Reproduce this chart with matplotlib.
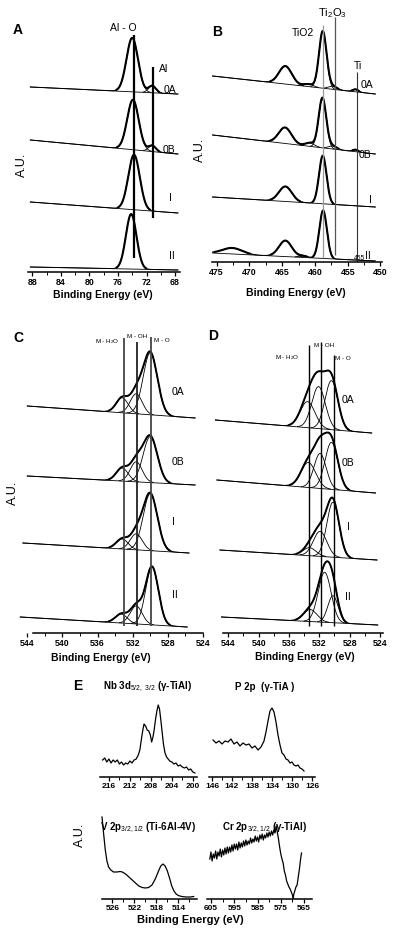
import numpy as np
import matplotlib
matplotlib.use("Agg")
import matplotlib.pyplot as plt

plt.rcParams['font.family'] = ['Liberation Sans', 'DejaVu Sans']
plt.rcParams['mathtext.fontset'] = 'custom'
plt.rcParams['mathtext.rm'] = 'Liberation Sans'
plt.rcParams['mathtext.it'] = 'Liberation Sans:italic'
plt.rcParams['mathtext.bf'] = 'Liberation Sans:bold'

W, H = 400, 933

# ------------------------------------------------------------------ data
samples = ["0A", "0B", "I", "II"]

# Panel A : Al 2p  (peak centre eV, height a.u., FWHM eV)
A_range = (88.3, 67.6)
A_bg_left = [185, 132, 70, 5]
A_bg_right = [178, 118, 59, 2]
A_alo_center = [74.0, 73.9, 73.75, 74.15]
A_alo_height = [54, 50, 55, 55]
A_alo_fwhm = [1.9, 1.9, 1.9, 1.75]
A_al_center = [71.2, 71.2, 71.1, 71.1]
A_al_height = [7, 6, 0, 0]
A_al_fwhm = [1.2, 1.2, 1.2, 1.2]
A_lines_ev = [73.7, 71.1]

# Panel B : Ti 2p
B_range = (475.6, 450.8)
B_bg_left = [186, 127, 65, 9]
B_bg_right = [168, 108, 55, 1]
B_tio2a_center = [458.8, 458.85, 458.8, 458.75]
B_tio2a_height = [57, 50, 48, 48]
B_tio2a_fwhm = [1.35, 1.35, 1.35, 1.35]
B_tio2b_center = [464.5, 464.55, 464.5, 464.5]
B_tio2b_height = [18, 16, 15, 16]
B_tio2b_fwhm = [2.3, 2.3, 2.3, 2.3]
B_ti2o3_center = [457.3, 457.3, 457.3, 457.3]
B_ti2o3_height = [3, 3, 0, 0]
B_ti2o3_fwhm = [1.5, 1.5, 1.5, 1.5]
B_sub_center = [461.0, 460.8, 461.0, 461.8]
B_sub_height = [2.5, 3.5, 0, 1.5]
B_sub_fwhm = [1.8, 1.6, 1.6, 1.6]
B_ti_center = [453.8, 453.8, 453.8, 453.8]
B_ti_height = [2.5, 2, 0, 0]
B_ti_fwhm = [1.0, 1.0, 1.0, 1.0]
B_sat_center = [472.6, 472.6, 472.6, 472.6]
B_sat_height = [0, 0, 0, 6]
B_sat_fwhm = [3.5, 3.5, 3.5, 3.5]
B_lines_ev = [458.7, 456.9, 453.6]

# Panel C : O 1s
C_range_lo = [544.0, 544.0, 544.5, 544.8]
C_range_hi = [524.9, 524.9, 525.6, 525.8]
C_bg_left = [227, 157, 90, 16]
C_bg_right = [215, 148, 80, 6]
C_mo_center = [530.0, 530.0, 530.0, 529.8]
C_mo_height = [62, 46, 57, 58]
C_mo_fwhm = [1.9, 1.9, 1.9, 1.7]
C_moh_center = [531.6, 531.6, 531.6, 531.6]
C_moh_height = [20, 20, 16, 18]
C_moh_fwhm = [1.6, 1.6, 1.6, 1.6]
C_mh2o_center = [533.2, 533.2, 533.2, 533.3]
C_mh2o_height = [15, 13, 10, 9]
C_mh2o_fwhm = [1.6, 1.6, 1.6, 1.6]
C_lines_ev = [533.0, 531.55, 529.95]

# Panel D : O 1s
D_range_lo = [545.7, 545.5, 545.1, 544.9]
D_range_hi = [525.1, 524.6, 524.4, 524.3]
D_bg_left = [213, 153, 83, 16]
D_bg_right = [200, 140, 73, 8]
D_mo_center = [530.4, 530.4, 530.2, 530.2]
D_mo_height = [49, 47, 55, 27]
D_mo_fwhm = [2.0, 2.0, 1.9, 1.6]
D_moh_center = [532.1, 531.9, 531.9, 531.3]
D_moh_height = [42, 35, 25, 50]
D_moh_fwhm = [2.1, 1.9, 2.1, 2.0]
D_mh2o_center = [533.55, 533.45, 533.3, 533.2]
D_mh2o_height = [26, 25, 8, 12]
D_mh2o_fwhm = [2.3, 2.3, 2.0, 2.1]
D_lines_ev = [533.31, 531.78, 530.03]

# Panel E : survey of alloying elements (eV, a.u.)
Nb_ev = [217.2, 216.8, 216.4, 216.0, 215.6, 215.2, 214.8, 214.4, 214.0, 213.6,
         213.2, 212.8, 212.4, 212.0, 211.6, 211.2, 210.8, 210.4, 210.1, 209.8,
         209.5, 209.3, 209.0, 208.7, 208.4, 208.1, 207.85, 207.6, 207.4, 207.1,
         206.85, 206.6, 206.35, 206.1, 205.85, 205.6, 205.3, 205.0, 204.7, 204.4,
         204.0, 203.6, 203.2, 202.8, 202.4, 202.0, 201.6, 201.2, 200.8, 200.4,
         200.0, 199.6]
Nb_int = [17, 19, 15, 18, 14, 17, 15, 17, 13, 15, 12, 14, 13, 16, 14, 17, 18, 22,
          27, 38, 48, 53, 51, 47, 46, 42, 35, 40, 46, 58, 66, 72, 68, 57, 45, 33,
          24, 20, 18, 16, 15, 13, 14, 11, 12, 10, 9, 10, 7, 8, 5, 4]

P_ev = [145.8, 145.2, 144.6, 144.0, 143.4, 142.8, 142.2, 141.6, 141.0, 140.4,
        139.8, 139.2, 138.6, 138.0, 137.4, 136.8, 136.2, 135.6, 135.2, 134.8,
        134.4, 134.0, 133.6, 133.2, 132.8, 132.4, 132.0, 131.6, 131.2, 130.8,
        130.4, 130.0, 129.6, 129.2, 128.8, 128.4, 128.0, 127.6]
P_int = [37, 34, 36, 33, 36, 35, 38, 33, 35, 31, 34, 32, 33, 29, 31, 27, 30, 36,
         45, 56, 66, 69, 65, 55, 42, 32, 24, 22, 18, 17, 14, 15, 12, 11, 12, 9, 8, 6]

V_ev = [527.9, 527.6, 527.3, 527.0, 526.7, 526.3, 525.8, 525.2, 524.6, 524.2,
        523.6, 523.0, 522.4, 521.8, 521.2, 520.6, 520.0, 519.4, 518.8, 518.2,
        517.6, 517.2, 516.8, 516.4, 516.0, 515.6, 515.2, 514.8, 514.4, 514.0,
        513.4, 512.6, 511.8, 511.2]
V_int = [82, 65, 49, 38, 32, 29, 27, 27, 27.5, 27, 25, 22, 19, 16, 13, 11.5, 11,
         11.5, 14, 20, 28, 33, 35, 33, 28, 21, 13, 8, 5, 3.5, 2.5, 2, 2, 2.5]

Cr_ev = [605.5, 605.0, 604.5, 604.0, 603.5, 603.0, 602.5, 602.0, 601.5, 601.0,
         600.5, 600.0, 599.5, 599.0, 598.5, 598.0, 597.5, 597.0, 596.5, 596.0,
         595.5, 595.0, 594.5, 594.0, 593.5, 593.0, 592.5, 592.0, 591.5, 591.0,
         590.5, 590.0, 589.5, 589.0, 588.5, 588.0, 587.5, 587.0, 586.5, 586.0,
         585.5, 585.0, 584.5, 584.0, 583.5, 583.0, 582.5, 582.0, 581.5, 581.0,
         580.5, 580.0, 579.5, 579.0, 578.5, 578.0, 577.5, 577.0, 576.5, 576.0,
         575.5, 575.0, 574.5, 574.0, 573.5, 573.0, 572.5, 572.0, 571.5, 571.0,
         570.5, 570.0, 569.7, 569.4, 569.0, 568.5, 568.0, 567.5, 567.0, 566.5, 566.1]
Cr_int = [40, 47, 38, 45, 41, 48, 40, 47, 43, 50, 42, 49, 44, 51, 45, 52, 46, 52,
          47, 54, 48, 55, 50, 55, 49, 57, 51, 56, 52, 58, 53, 59, 54, 58, 55, 61,
          56, 60, 57, 63, 58, 62, 57, 64, 60, 65, 59, 64, 61, 66, 62, 67, 63, 68,
          64, 69, 66, 73, 67, 60, 52, 45, 40, 36, 28, 24, 18, 15, 12, 10, 7, 4,
          0, 5, 8, 12, 14, 22, 30, 40, 46]

# ------------------------------------------------------------------ helpers
fig = plt.figure(figsize=(W / 100, H / 100), dpi=100)
fig.patch.set_facecolor('white')


def ftext(x, y, s, size=7.5, weight='normal', ha='center', va='center', rot=0):
    fig.text(x / W, 1 - y / H, s, fontsize=size, fontweight=weight, ha=ha, va=va,
             rotation=rot)


def make_axes(x0, x1, ytop, ybot, xlim, ticks, minor, bounds=None, labelsize=6.3):
    ax = fig.add_axes([x0 / W, 1 - ybot / H, (x1 - x0) / W, (ybot - ytop) / H])
    ax.set_xlim(*xlim)
    ax.set_ylim(0, ybot - ytop)
    for s in ['left', 'right', 'top']:
        ax.spines[s].set_visible(False)
    ax.spines['bottom'].set_linewidth(1.1)
    if bounds:
        ax.spines['bottom'].set_bounds(*bounds)
    ax.set_yticks([])
    ax.set_xticks(ticks)
    ax.set_xticklabels([str(t) for t in ticks], fontweight='bold', fontsize=labelsize)
    ax.set_xticks(minor, minor=True)
    ax.tick_params(axis='x', which='major', length=3, width=0.9, pad=1.5)
    ax.tick_params(axis='x', which='minor', length=1.8, width=0.7)
    ax.patch.set_visible(False)
    return ax


def peak(x, c, h, w):
    return h * np.exp(-4 * np.log(2) * ((x - c) / w) ** 2)


def draw_spectrum(ax, lo, hi, bgL, bgR, comps, lw_env=1.4, lw_thin=0.6, thresh=1.2):
    x = np.linspace(lo, hi, 700)
    bg = bgL + (bgR - bgL) * (x - lo) / (hi - lo)
    parts = [peak(x, c, h, w) for c, h, w in comps if h > 0]
    s = sum(parts) if parts else np.zeros_like(x)
    total = bg + s
    ax.plot(x, total, color='k', lw=0.7)
    ax.plot(x, np.where(s > thresh, total, np.nan), color='k', lw=lw_env)
    if len(parts) > 1:
        for p in parts:
            ax.plot(x, np.where(p > 0.3, bg + p, np.nan), color='k', lw=lw_thin)
    ax.plot(x, bg, color='k', lw=lw_thin)


# ------------------------------------------------------------------ panel A
axA = make_axes(28, 180, 10, 272, (88.63, 67.3), [88, 84, 80, 76, 72, 68],
                [86, 82, 78, 74, 70])
for i in range(4):
    comps = [(A_alo_center[i], A_alo_height[i], A_alo_fwhm[i]),
             (A_al_center[i], A_al_height[i], A_al_fwhm[i])]
    draw_spectrum(axA, A_range[0], A_range[1], A_bg_left[i], A_bg_right[i], comps,
                  lw_env=1.5)
axA.vlines(A_lines_ev[0], 14, 237, color='k', lw=1.6)
axA.vlines(A_lines_ev[1], 54, 205, color='k', lw=1.6)
ftext(18, 30, "A", 10, 'bold')
ftext(123, 28, "Al - O", 7.5)
ftext(164, 69, "Al", 7.5)
for s, (x, y) in zip(samples, [(170, 90), (169, 150), (170, 198), (172, 256)]):
    ftext(x, y, s, 7.5)
ftext(22, 165, "A.U.", 9, rot=90)
ftext(103, 295, "Binding Energy (eV)", 7.5, 'bold')

# ------------------------------------------------------------------ panel B
axB = make_axes(212, 382, 5, 262, (475.69, 449.77), [475, 470, 465, 460, 455, 450],
                [472.5, 467.5, 462.5, 457.5, 452.5])
for i in range(4):
    comps = [(B_tio2a_center[i], B_tio2a_height[i], B_tio2a_fwhm[i]),
             (B_tio2b_center[i], B_tio2b_height[i], B_tio2b_fwhm[i]),
             (B_ti2o3_center[i], B_ti2o3_height[i], B_ti2o3_fwhm[i]),
             (B_sub_center[i], B_sub_height[i], B_sub_fwhm[i]),
             (B_ti_center[i], B_ti_height[i], B_ti_fwhm[i]),
             (B_sat_center[i], B_sat_height[i], B_sat_fwhm[i])]
    draw_spectrum(axB, B_range[0], B_range[1], B_bg_left[i], B_bg_right[i], comps,
                  lw_env=1.5)
axB.vlines(B_lines_ev[0], 4, 237, color='#999999', lw=0.9)
axB.vlines(B_lines_ev[1], 7, 245, color='#555555', lw=0.9)
axB.vlines(B_lines_ev[2], 0, 190, color='#333333', lw=0.8)
ftext(217, 32, "B", 10, 'bold')
ftext(332, 13, "Ti$_2$O$_3$", 8)
ftext(303, 33, "TiO2", 7.5)
ftext(358, 66, "Ti", 7.5)
ftext(360, 259, "455", 4.8)
for s, (x, y) in zip(samples, [(367, 85), (365, 155), (370, 200), (368, 256)]):
    ftext(x, y, s, 7.5)
ftext(200, 150, "A.U.", 9, rot=90)
ftext(296, 293, "Binding Energy (eV)", 7.5, 'bold')

# ------------------------------------------------------------------ panel C
axC = make_axes(18, 203, 325, 633, (545.06, 524.06), [544, 540, 536, 532, 528, 524],
                [542, 538, 534, 530, 526], bounds=(543.4, 524.0))
for i in range(4):
    comps = [(C_mo_center[i], C_mo_height[i], C_mo_fwhm[i]),
             (C_moh_center[i], C_moh_height[i], C_moh_fwhm[i]),
             (C_mh2o_center[i], C_mh2o_height[i], C_mh2o_fwhm[i])]
    draw_spectrum(axC, C_range_lo[i], C_range_hi[i], C_bg_left[i], C_bg_right[i], comps)
axC.vlines(C_lines_ev[0], 7, 633 - 338, color='#444444', lw=1.3)
axC.vlines(C_lines_ev[1], 7, 633 - 342, color='#222222', lw=1.3)
axC.vlines(C_lines_ev[2], 7, 633 - 337, color='#444444', lw=1.3)
ftext(18, 338, "C", 10, 'bold')
ftext(107, 342, "M - H$_2$O", 4.5)
ftext(137, 336, "M - OH", 4.5)
ftext(162, 341, "M - O", 4.5)
for s, (x, y) in zip(samples, [(178, 392), (178, 462), (173, 522), (175, 595)]):
    ftext(x, y, s, 7.5)
ftext(13, 493, "A.U.", 9, rot=90)
ftext(101, 658, "Binding Energy (eV)", 7.5, 'bold')

# ------------------------------------------------------------------ panel D
axD = make_axes(213, 385, 325, 633, (546.02, 523.34), [544, 540, 536, 532, 528, 524],
                [542, 538, 534, 530, 526], bounds=(544.7, 523.6))
for i in range(4):
    comps = [(D_mo_center[i], D_mo_height[i], D_mo_fwhm[i]),
             (D_moh_center[i], D_moh_height[i], D_moh_fwhm[i]),
             (D_mh2o_center[i], D_mh2o_height[i], D_mh2o_fwhm[i])]
    draw_spectrum(axD, D_range_lo[i], D_range_hi[i], D_bg_left[i], D_bg_right[i], comps)
axD.vlines(D_lines_ev[0], 7, 633 - 345, color='k', lw=1.0)
axD.vlines(D_lines_ev[1], 7, 633 - 342, color='k', lw=1.0)
axD.vlines(D_lines_ev[2], 7, 633 - 355, color='k', lw=1.0)
ftext(213, 336, "D", 10, 'bold')
ftext(287, 358, "M - H$_2$O", 4.5)
ftext(324, 346, "M - OH", 4.5)
ftext(343, 358, "M - O", 4.5)
for s, (x, y) in zip(samples, [(348, 400), (348, 463), (348, 527), (348, 597)]):
    ftext(x, y, s, 7.5)
ftext(305, 657, "Binding Energy (eV)", 7.5, 'bold')

# ------------------------------------------------------------------ panel E
axNb = make_axes(100, 197, 695, 777, (217.7, 199.2), [216, 212, 208, 204, 200],
                 [214, 210, 206, 202], labelsize=6.0)
axNb.plot(Nb_ev, Nb_int, color='k', lw=0.9)
axP = make_axes(209, 315, 695, 777, (146.6, 125.4), [146, 142, 138, 134, 130, 126],
                [144, 140, 136, 132, 128], labelsize=6.0)
axP.plot(P_ev, P_int, color='k', lw=0.9)
axV = make_axes(102, 197, 812, 899, (527.9, 510.6), [526, 522, 518, 514],
                [524, 520, 516, 512], labelsize=6.0)
axV.plot(V_ev, V_int, color='k', lw=0.9, clip_on=False)
axCr = make_axes(207, 312, 812, 899, (606.7, 561.6), [605, 595, 585, 575, 565],
                 [600, 590, 580, 570], labelsize=6.0)
axCr.plot(Cr_ev, Cr_int, color='k', lw=0.9)

ftext(78, 686, "E", 10, 'bold')
ftext(148, 687, "Nb 3d$_{5/2,\\ 3/2}$ (γ-TiAl)", 7, 'bold')
ftext(265, 687, "P 2p  (γ-TiA )", 7, 'bold')
ftext(148, 828, "V 2p$_{3/2,1/2}$ (Ti-6Al-4V)", 7, 'bold')
ftext(265, 828, "Cr 2p$_{3/2,1/2}$ (γ-TiAl)", 7, 'bold')
ftext(80, 835, "A.U.", 9, rot=90)
ftext(190, 920, "Binding Energy (eV)", 8, 'bold')

fig.savefig("out.png", dpi=100, facecolor='white')
